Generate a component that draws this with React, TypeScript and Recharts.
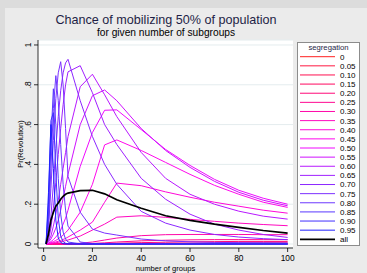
import { LineChart, Line, XAxis, YAxis, CartesianGrid } from 'recharts'

// number of groups
const groups = [1, 2, 3, 4, 5, 6, 7, 8, 9, 10, 15, 20, 25, 30, 40, 50, 60, 70, 80, 90, 100]

// Pr(Revolution) by segregation level
const seg000 = [0, 0, 0, 0, 0, 0, 0, 0, 0, 0, 0, 0, 0, 0, 0, 0, 0, 0, 0, 0, 0]
const seg005 = [0, 0, 0, 0, 0, 0, 0, 0, 0, 0, 0, 0, 0, 0, 0, 0, 0, 0.001, 0.001, 0.001, 0.001]
const seg010 = [0, 0, 0, 0, 0, 0, 0, 0, 0, 0, 0, 0, 0, 0, 0.001, 0.001, 0.002, 0.002, 0.003, 0.003, 0.003]
const seg015 = [0, 0, 0, 0, 0, 0, 0, 0, 0, 0, 0, 0, 0.001, 0.001, 0.002, 0.003, 0.004, 0.005, 0.005, 0.006, 0.006]
const seg020 = [0, 0, 0, 0, 0, 0, 0, 0, 0, 0, 0, 0.001, 0.002, 0.004, 0.007, 0.009, 0.011, 0.012, 0.013, 0.013, 0.013]
const seg025 = [0, 0, 0, 0, 0, 0, 0, 0, 0, 0, 0.001, 0.003, 0.006, 0.01, 0.016, 0.019, 0.021, 0.022, 0.022, 0.022, 0.022]
const seg030 = [0, 0, 0, 0, 0, 0, 0, 0, 0, 0.001, 0.004, 0.01, 0.02, 0.03, 0.042, 0.047, 0.048, 0.048, 0.048, 0.047, 0.047]
const seg035 = [0, 0.001, 0.002, 0.004, 0.006, 0.008, 0.011, 0.014, 0.017, 0.02, 0.04, 0.07, 0.1, 0.135, 0.142, 0.134, 0.124, 0.114, 0.105, 0.098, 0.092]
const seg040 = [0, 0.002, 0.004, 0.007, 0.01, 0.014, 0.018, 0.023, 0.028, 0.035, 0.07, 0.11, 0.21, 0.306, 0.293, 0.262, 0.235, 0.21, 0.19, 0.17, 0.155]
const seg045 = [0, 0.003, 0.007, 0.012, 0.018, 0.026, 0.035, 0.045, 0.057, 0.07, 0.16, 0.3, 0.498, 0.523, 0.47, 0.41, 0.35, 0.295, 0.25, 0.21, 0.184]
const seg050 = [0, 0.005, 0.012, 0.022, 0.035, 0.05, 0.07, 0.1, 0.13, 0.17, 0.39, 0.56, 0.672, 0.674, 0.575, 0.475, 0.395, 0.325, 0.27, 0.23, 0.2]
const seg055 = [0, 0.01, 0.025, 0.05, 0.08, 0.12, 0.17, 0.23, 0.29, 0.35, 0.6, 0.745, 0.774, 0.72, 0.58, 0.47, 0.385, 0.315, 0.26, 0.22, 0.192]
const seg060 = [0, 0.015, 0.04, 0.09, 0.15, 0.22, 0.3, 0.38, 0.46, 0.54, 0.79, 0.853, 0.75, 0.64, 0.46, 0.33, 0.25, 0.2, 0.165, 0.14, 0.125]
const seg065 = [0, 0.02, 0.08, 0.18, 0.31, 0.45, 0.58, 0.7, 0.8, 0.865, 0.896, 0.76, 0.6, 0.5, 0.33, 0.225, 0.15, 0.1, 0.07, 0.048, 0.033]
const seg070 = [0, 0.04, 0.14, 0.3, 0.48, 0.64, 0.77, 0.86, 0.91, 0.928, 0.72, 0.54, 0.4, 0.3, 0.164, 0.105, 0.07, 0.048, 0.035, 0.027, 0.022]
const seg075 = [0, 0.08, 0.28, 0.52, 0.73, 0.86, 0.916, 0.8, 0.58, 0.34, 0.16, 0.075, 0.055, 0.045, 0.025, 0.016, 0.011, 0.008, 0.007, 0.006, 0.005]
const seg080 = [0, 0.1, 0.38, 0.68, 0.846, 0.72, 0.5, 0.3, 0.17, 0.09, 0.01, 0.002, 0, 0, 0, 0, 0, 0, 0, 0, 0]
const seg085 = [0, 0.14, 0.52, 0.78, 0.6, 0.33, 0.15, 0.06, 0.025, 0.01, 0.001, 0, 0, 0, 0, 0, 0, 0, 0, 0, 0]
const seg090 = [0, 0.2, 0.62, 0.66, 0.36, 0.13, 0.04, 0.012, 0.004, 0.001, 0, 0, 0, 0, 0, 0, 0, 0, 0, 0, 0]
const seg095 = [0, 0.26, 0.6, 0.38, 0.12, 0.03, 0.008, 0.002, 0, 0, 0, 0, 0, 0, 0, 0, 0, 0, 0, 0, 0]
const segAll = [0, 0.05, 0.12, 0.16, 0.19, 0.206, 0.225, 0.24, 0.25, 0.256, 0.268, 0.27, 0.252, 0.222, 0.18, 0.142, 0.119, 0.1, 0.084, 0.068, 0.055]

const SERIES = [seg000, seg005, seg010, seg015, seg020, seg025, seg030, seg035, seg040, seg045,
  seg050, seg055, seg060, seg065, seg070, seg075, seg080, seg085, seg090, seg095]
const SEG_LABELS = ['0', '0.05', '0.10', '0.15', '0.20', '0.25', '0.30', '0.35', '0.40', '0.45',
  '0.50', '0.55', '0.60', '0.65', '0.70', '0.75', '0.80', '0.85', '0.90', '0.95']

const xTicks = [0, 20, 40, 60, 80, 100]
const yTicks = [0, 0.2, 0.4, 0.6, 0.8, 1]

const COLORS = ['#ff2020', '#ff1840', '#ff1050', '#ff0860', '#ff0878', '#ff0890', '#ff08a8', '#ff08c0',
  '#ff08d8', '#ff08ec', '#f008ff', '#d010ff', '#b818ff', '#a020ff', '#8c28ff', '#7c30ff',
  '#6c38ff', '#5838ff', '#4030ff', '#2020ff']

const FONT = '"Liberation Sans", Arial, sans-serif'
const NAVY = '#1e1e46'

const yLabel = (v: number) => (v === 0 ? '0' : v === 1 ? '1' : String(v).replace(/^0/, ''))

function YTick({ y, payload }: any) {
  return (
    <text x={31.5} y={y} transform={`rotate(-90 31.5 ${y})`} textAnchor="middle"
      fontSize={8.4} fontFamily={FONT} fill="#000">
      {yLabel(payload.value)}
    </text>
  )
}

export default function App() {
  const rows = groups.map((g, i) => {
    const row: Record<string, number> = { g, all: segAll[i] }
    SERIES.forEach((s, k) => { row['s' + k] = s[i] })
    return row
  })

  return (
    <div style={{ position: 'absolute', left: 0, top: 0, width: 367, height: 273, background: '#dcdcdc', overflow: 'hidden' }}>
      <div style={{ position: 'absolute', left: 5, top: 8, right: 0, bottom: 0, background: '#ebebeb' }} />
      <div style={{ position: 'absolute', left: 0, top: 0 }}>
        <LineChart width={367} height={273} data={rows} margin={{ top: 40, right: 74, bottom: 0, left: 0 }}>
          <CartesianGrid vertical={false} stroke="#e4ecee" fill="#ffffff" />
          <XAxis type="number" dataKey="g" domain={[-2.3, 102.2]} ticks={xTicks} allowDataOverflow
            height={25} tickSize={4} tickMargin={3} stroke="#000" strokeWidth={0.8}
            tick={{ fontSize: 8.4, fontFamily: FONT, fill: '#000' }} />
          <YAxis type="number" domain={[-0.02, 1.025]} ticks={yTicks} allowDataOverflow
            width={38} tickSize={4} stroke="#000" strokeWidth={0.8} tick={<YTick />} />
          {SERIES.map((_, k) => (
            <Line key={k} type="linear" dataKey={'s' + k} stroke={COLORS[k]} strokeWidth={1}
              dot={false} activeDot={false} isAnimationActive={false} />
          ))}
          <Line type="linear" dataKey="all" stroke="#000" strokeWidth={1.7}
            dot={false} activeDot={false} isAnimationActive={false} />
        </LineChart>
      </div>
      <svg width={367} height={273} style={{ position: 'absolute', left: 0, top: 0, pointerEvents: 'none' }}>
        <text x={166} y={23.5} textAnchor="middle" fontSize={12.6} fontFamily={FONT} fill={NAVY}>
          Chance of mobilizing 50% of population
        </text>
        <text x={166} y={35.5} textAnchor="middle" fontSize={10.2} fontFamily={FONT} fill="#000">
          for given number of subgroups
        </text>
        <text x={165.5} y={271} textAnchor="middle" fontSize={7.6} fontFamily={FONT} fill="#000">
          number of groups
        </text>
        <text x={23} y={144} transform="rotate(-90 23 144)" textAnchor="middle" fontSize={7.4}
          fontFamily={FONT} fill="#000">
          Pr(Revolution)
        </text>
        <rect x={297.5} y={42.5} width={62} height={203} fill="#fff" stroke="#8c8c8c" strokeWidth={1} />
        <text x={328.5} y={49.5} textAnchor="middle" fontSize={7.7} fontFamily={FONT} fill={NAVY}>
          segregation
        </text>
        {[...SEG_LABELS, 'all'].map((lab, i) => {
          const cy = 56.7 + 9.13 * i
          const isAll = i === SEG_LABELS.length
          return (
            <g key={lab}>
              <line x1={300} x2={335} y1={cy} y2={cy} stroke={isAll ? '#000' : COLORS[i]}
                strokeWidth={isAll ? 1.7 : 1} />
              <text x={340} y={cy + 2.9} fontSize={8} fontFamily={FONT} fill="#000">{lab}</text>
            </g>
          )
        })}
      </svg>
    </div>
  )
}
